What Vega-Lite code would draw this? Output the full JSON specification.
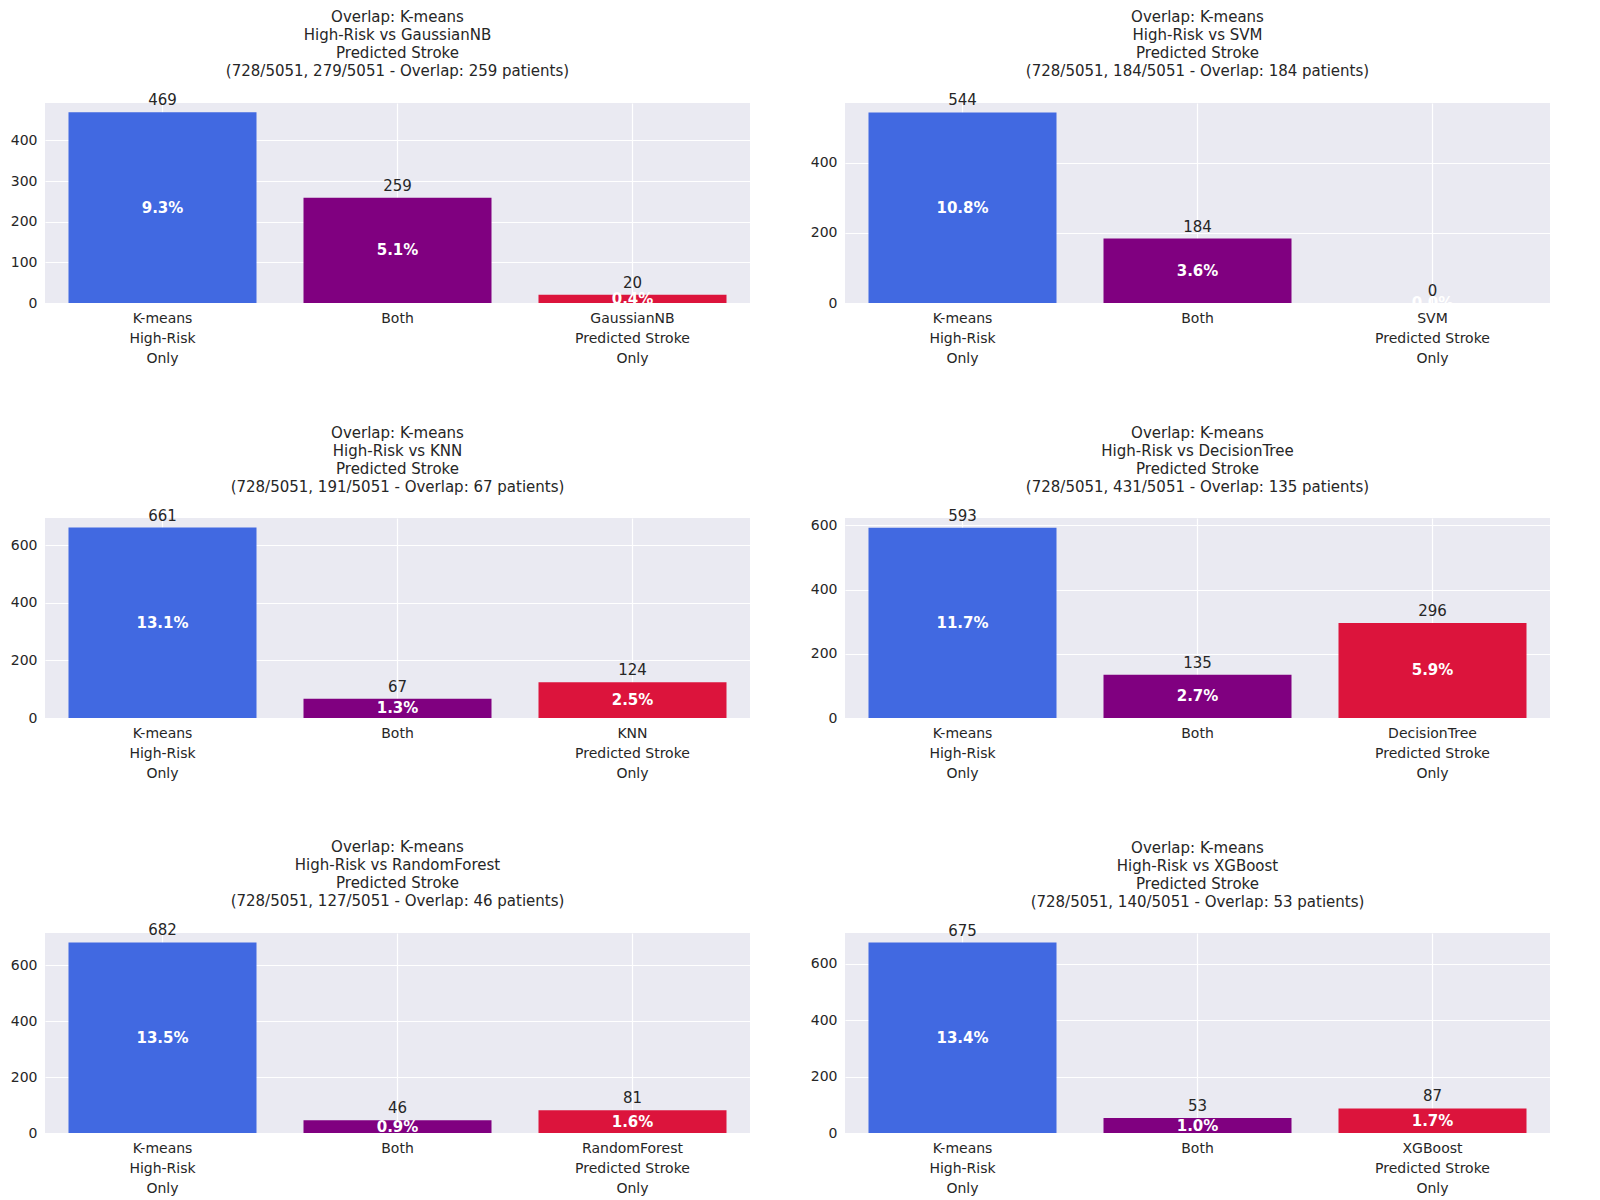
{
  "$schema": "https://vega.github.io/schema/vega-lite/v6.json",
  "background": "white",
  "padding": {"left": 10, "top": 10, "right": 10, "bottom": 5},
  "config": {
    "font": "DejaVu Sans",
    "view": {"fill": "#EAEAF2", "stroke": null},
    "axis": {"domain": false, "ticks": false, "gridColor": "white", "gridWidth": 1.2, "labelFontSize": 14, "labelColor": "#262626", "title": null, "labelPadding": 8},
    "title": {"fontSize": 15, "fontWeight": "normal", "color": "#262626", "offset": 14, "lineHeight": 18},
    "concat": {"spacing": 60}
  },
  "datasets": {
    "bars": [
      {"panel": 1, "order": 1, "label": "K-means|High-Risk|Only", "count": 469, "pct": "9.3%"},
      {"panel": 1, "order": 2, "label": "Both", "count": 259, "pct": "5.1%"},
      {"panel": 1, "order": 3, "label": "GaussianNB|Predicted Stroke|Only", "count": 20, "pct": "0.4%"},
      {"panel": 2, "order": 1, "label": "K-means|High-Risk|Only", "count": 544, "pct": "10.8%"},
      {"panel": 2, "order": 2, "label": "Both", "count": 184, "pct": "3.6%"},
      {"panel": 2, "order": 3, "label": "SVM|Predicted Stroke|Only", "count": 0, "pct": "0.0%"},
      {"panel": 3, "order": 1, "label": "K-means|High-Risk|Only", "count": 661, "pct": "13.1%"},
      {"panel": 3, "order": 2, "label": "Both", "count": 67, "pct": "1.3%"},
      {"panel": 3, "order": 3, "label": "KNN|Predicted Stroke|Only", "count": 124, "pct": "2.5%"},
      {"panel": 4, "order": 1, "label": "K-means|High-Risk|Only", "count": 593, "pct": "11.7%"},
      {"panel": 4, "order": 2, "label": "Both", "count": 135, "pct": "2.7%"},
      {"panel": 4, "order": 3, "label": "DecisionTree|Predicted Stroke|Only", "count": 296, "pct": "5.9%"},
      {"panel": 5, "order": 1, "label": "K-means|High-Risk|Only", "count": 682, "pct": "13.5%"},
      {"panel": 5, "order": 2, "label": "Both", "count": 46, "pct": "0.9%"},
      {"panel": 5, "order": 3, "label": "RandomForest|Predicted Stroke|Only", "count": 81, "pct": "1.6%"},
      {"panel": 6, "order": 1, "label": "K-means|High-Risk|Only", "count": 675, "pct": "13.4%"},
      {"panel": 6, "order": 2, "label": "Both", "count": 53, "pct": "1.0%"},
      {"panel": 6, "order": 3, "label": "XGBoost|Predicted Stroke|Only", "count": 87, "pct": "1.7%"}
    ]
  },
  "columns": 2,
  "concat": [
    {
      "title": {"text": ["Overlap: K-means", "High-Risk vs GaussianNB", "Predicted Stroke", "(728/5051, 279/5051 - Overlap: 259 patients)"]},
      "width": 705, "height": 200,
      "data": {"name": "bars"},
      "transform": [{"filter": "datum.panel == 1"}, {"calculate": "datum.count / 2", "as": "mid"}],
      "encoding": {
        "x": {"field": "label", "type": "nominal", "sort": {"field": "order"}, "scale": {"paddingInner": 0.2, "paddingOuter": 0.1}, "axis": {"labelAngle": 0, "labelExpr": "split(datum.label, '|')", "grid": true, "labelLineHeight": 20}}
      },
      "layer": [
        {"mark": {"type": "bar"}, "encoding": {"y": {"field": "count", "type": "quantitative", "scale": {"domain": [0, 492], "nice": false}, "axis": {"grid": true, "tickCount": 5}}, "color": {"field": "order", "type": "nominal", "scale": {"domain": [1, 2, 3], "range": ["#4169E1", "#800080", "#DC143C"]}, "legend": null}}},
        {"mark": {"type": "text", "dy": -12, "fontSize": 15, "color": "#262626"}, "encoding": {"y": {"field": "count", "type": "quantitative"}, "text": {"field": "count"}}},
        {"mark": {"type": "text", "fontSize": 15, "fontWeight": "bold", "color": "white"}, "encoding": {"y": {"field": "mid", "type": "quantitative"}, "text": {"field": "pct"}}}
      ]
    },
    {
      "title": {"text": ["Overlap: K-means", "High-Risk vs SVM", "Predicted Stroke", "(728/5051, 184/5051 - Overlap: 184 patients)"]},
      "width": 705, "height": 200,
      "data": {"name": "bars"},
      "transform": [{"filter": "datum.panel == 2"}, {"calculate": "datum.count / 2", "as": "mid"}],
      "encoding": {
        "x": {"field": "label", "type": "nominal", "sort": {"field": "order"}, "scale": {"paddingInner": 0.2, "paddingOuter": 0.1}, "axis": {"labelAngle": 0, "labelExpr": "split(datum.label, '|')", "grid": true, "labelLineHeight": 20}}
      },
      "layer": [
        {"mark": {"type": "bar"}, "encoding": {"y": {"field": "count", "type": "quantitative", "scale": {"domain": [0, 571], "nice": false}, "axis": {"grid": true, "tickCount": 3}}, "color": {"field": "order", "type": "nominal", "scale": {"domain": [1, 2, 3], "range": ["#4169E1", "#800080", "#DC143C"]}, "legend": null}}},
        {"mark": {"type": "text", "dy": -12, "fontSize": 15, "color": "#262626"}, "encoding": {"y": {"field": "count", "type": "quantitative"}, "text": {"field": "count"}}},
        {"mark": {"type": "text", "fontSize": 15, "fontWeight": "bold", "color": "white"}, "encoding": {"y": {"field": "mid", "type": "quantitative"}, "text": {"field": "pct"}}}
      ]
    },
    {
      "title": {"text": ["Overlap: K-means", "High-Risk vs KNN", "Predicted Stroke", "(728/5051, 191/5051 - Overlap: 67 patients)"]},
      "width": 705, "height": 200,
      "data": {"name": "bars"},
      "transform": [{"filter": "datum.panel == 3"}, {"calculate": "datum.count / 2", "as": "mid"}],
      "encoding": {
        "x": {"field": "label", "type": "nominal", "sort": {"field": "order"}, "scale": {"paddingInner": 0.2, "paddingOuter": 0.1}, "axis": {"labelAngle": 0, "labelExpr": "split(datum.label, '|')", "grid": true, "labelLineHeight": 20}}
      },
      "layer": [
        {"mark": {"type": "bar"}, "encoding": {"y": {"field": "count", "type": "quantitative", "scale": {"domain": [0, 694], "nice": false}, "axis": {"grid": true, "tickCount": 4}}, "color": {"field": "order", "type": "nominal", "scale": {"domain": [1, 2, 3], "range": ["#4169E1", "#800080", "#DC143C"]}, "legend": null}}},
        {"mark": {"type": "text", "dy": -12, "fontSize": 15, "color": "#262626"}, "encoding": {"y": {"field": "count", "type": "quantitative"}, "text": {"field": "count"}}},
        {"mark": {"type": "text", "fontSize": 15, "fontWeight": "bold", "color": "white"}, "encoding": {"y": {"field": "mid", "type": "quantitative"}, "text": {"field": "pct"}}}
      ]
    },
    {
      "title": {"text": ["Overlap: K-means", "High-Risk vs DecisionTree", "Predicted Stroke", "(728/5051, 431/5051 - Overlap: 135 patients)"]},
      "width": 705, "height": 200,
      "data": {"name": "bars"},
      "transform": [{"filter": "datum.panel == 4"}, {"calculate": "datum.count / 2", "as": "mid"}],
      "encoding": {
        "x": {"field": "label", "type": "nominal", "sort": {"field": "order"}, "scale": {"paddingInner": 0.2, "paddingOuter": 0.1}, "axis": {"labelAngle": 0, "labelExpr": "split(datum.label, '|')", "grid": true, "labelLineHeight": 20}}
      },
      "layer": [
        {"mark": {"type": "bar"}, "encoding": {"y": {"field": "count", "type": "quantitative", "scale": {"domain": [0, 623], "nice": false}, "axis": {"grid": true, "tickCount": 4}}, "color": {"field": "order", "type": "nominal", "scale": {"domain": [1, 2, 3], "range": ["#4169E1", "#800080", "#DC143C"]}, "legend": null}}},
        {"mark": {"type": "text", "dy": -12, "fontSize": 15, "color": "#262626"}, "encoding": {"y": {"field": "count", "type": "quantitative"}, "text": {"field": "count"}}},
        {"mark": {"type": "text", "fontSize": 15, "fontWeight": "bold", "color": "white"}, "encoding": {"y": {"field": "mid", "type": "quantitative"}, "text": {"field": "pct"}}}
      ]
    },
    {
      "title": {"text": ["Overlap: K-means", "High-Risk vs RandomForest", "Predicted Stroke", "(728/5051, 127/5051 - Overlap: 46 patients)"]},
      "width": 705, "height": 200,
      "data": {"name": "bars"},
      "transform": [{"filter": "datum.panel == 5"}, {"calculate": "datum.count / 2", "as": "mid"}],
      "encoding": {
        "x": {"field": "label", "type": "nominal", "sort": {"field": "order"}, "scale": {"paddingInner": 0.2, "paddingOuter": 0.1}, "axis": {"labelAngle": 0, "labelExpr": "split(datum.label, '|')", "grid": true, "labelLineHeight": 20}}
      },
      "layer": [
        {"mark": {"type": "bar"}, "encoding": {"y": {"field": "count", "type": "quantitative", "scale": {"domain": [0, 716], "nice": false}, "axis": {"grid": true, "tickCount": 4}}, "color": {"field": "order", "type": "nominal", "scale": {"domain": [1, 2, 3], "range": ["#4169E1", "#800080", "#DC143C"]}, "legend": null}}},
        {"mark": {"type": "text", "dy": -12, "fontSize": 15, "color": "#262626"}, "encoding": {"y": {"field": "count", "type": "quantitative"}, "text": {"field": "count"}}},
        {"mark": {"type": "text", "fontSize": 15, "fontWeight": "bold", "color": "white"}, "encoding": {"y": {"field": "mid", "type": "quantitative"}, "text": {"field": "pct"}}}
      ]
    },
    {
      "title": {"text": ["Overlap: K-means", "High-Risk vs XGBoost", "Predicted Stroke", "(728/5051, 140/5051 - Overlap: 53 patients)"]},
      "width": 705, "height": 200,
      "data": {"name": "bars"},
      "transform": [{"filter": "datum.panel == 6"}, {"calculate": "datum.count / 2", "as": "mid"}],
      "encoding": {
        "x": {"field": "label", "type": "nominal", "sort": {"field": "order"}, "scale": {"paddingInner": 0.2, "paddingOuter": 0.1}, "axis": {"labelAngle": 0, "labelExpr": "split(datum.label, '|')", "grid": true, "labelLineHeight": 20}}
      },
      "layer": [
        {"mark": {"type": "bar"}, "encoding": {"y": {"field": "count", "type": "quantitative", "scale": {"domain": [0, 709], "nice": false}, "axis": {"grid": true, "tickCount": 4}}, "color": {"field": "order", "type": "nominal", "scale": {"domain": [1, 2, 3], "range": ["#4169E1", "#800080", "#DC143C"]}, "legend": null}}},
        {"mark": {"type": "text", "dy": -12, "fontSize": 15, "color": "#262626"}, "encoding": {"y": {"field": "count", "type": "quantitative"}, "text": {"field": "count"}}},
        {"mark": {"type": "text", "fontSize": 15, "fontWeight": "bold", "color": "white"}, "encoding": {"y": {"field": "mid", "type": "quantitative"}, "text": {"field": "pct"}}}
      ]
    }
  ]
}
